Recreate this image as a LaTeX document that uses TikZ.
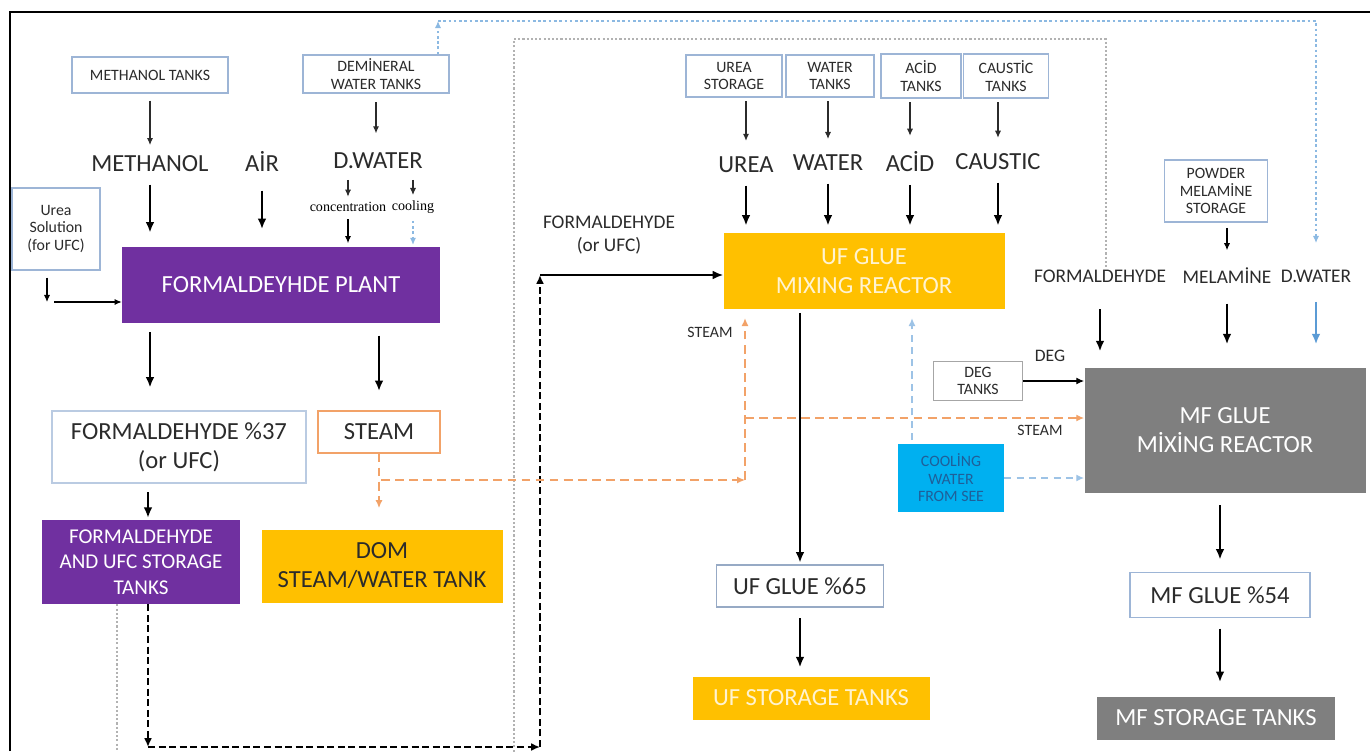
\documentclass[tikz,border=0pt]{standalone}
\usepackage{fontspec}
\setmainfont{Carlito}
\newfontfamily\notefont{Liberation Serif}
\usetikzlibrary{arrows.meta}
\definecolor{plantpurple}{HTML}{7030A0}
\definecolor{glueorange}{HTML}{FFC000}
\definecolor{mfgray}{HTML}{7F7F7F}
\definecolor{seablue}{HTML}{00B0F0}
\definecolor{tankline}{HTML}{9DB5D6}
\definecolor{steamline}{HTML}{F2A268}
\definecolor{dwblue}{HTML}{5B9BD5}
\definecolor{txtgray}{HTML}{2B2B2B}
\definecolor{gluetext}{HTML}{FFF3D0}
\definecolor{seatext}{HTML}{1F5F99}

\begin{document}
\begin{tikzpicture}[x=0.02cm, y=-0.02cm,
    box/.style 2 args={minimum width=#1*0.02cm, minimum height=#2*0.02cm},
    tank/.style={draw=tankline, line width=0.7pt, fill=white, align=center,
        text=txtgray, inner sep=0pt, font=\fontsize{9}{10}\selectfont},
    bigtext/.style={font=\fontsize{14}{16.5}\selectfont},
    plant/.style={fill=plantpurple, text=white, align=center, inner sep=0pt},
    glue/.style={fill=glueorange, text=gluetext, align=center, inner sep=0pt, bigtext},
    mf/.style={fill=mfgray, text=white, align=center, inner sep=0pt, bigtext},
    feedtext/.style={text=txtgray, inner sep=0pt, bigtext},
    midtext/.style={text=txtgray, inner sep=0pt, align=center, font=\fontsize{11}{13}\selectfont},
    smalltext/.style={text=txtgray, inner sep=0pt, font=\fontsize{9}{10}\selectfont},
    notetext/.style={text=black, inner sep=0pt, font=\notefont\fontsize{8}{9}\selectfont},
    feed/.style={-{Latex[length=4pt,width=3.5pt]}, line width=0.6pt, draw=txtgray},
    flow/.style={-{Latex[length=6pt,width=5pt]}, line width=1.3pt},
    steam/.style={-{Latex[length=4.5pt,width=4pt]}, draw=steamline, line width=0.8pt,
        dash pattern=on 5pt off 3pt},
    cool/.style={-{Latex[length=4.5pt,width=4pt]}, draw=dwblue!60, line width=0.8pt,
        dash pattern=on 4pt off 3pt},
    dwline/.style={-{Latex[length=4pt,width=3.5pt]}, draw=dwblue!70, line width=0.7pt,
        dash pattern=on 1.5pt off 1.5pt},
    grayline/.style={draw=gray!60, line width=0.8pt, dash pattern=on 1.2pt off 1.2pt},
    blackdash/.style={-{Latex[length=5pt,width=4.5pt]}, line width=1.3pt,
        dash pattern=on 4pt off 2pt}
]
    \useasboundingbox (0,0) rectangle (1370,751);
    \draw[line width=1.6pt] (10,751) -- (10,12) -- (1370,12);

    \node[tank, box={156}{36}] (methtank) at (150,75) {METHANOL TANKS};
    \node[tank, box={146}{38}] (demitank) at (376,74) {DEMİNERAL\\WATER TANKS};
    \node[tank, box={88}{82}] (ureasol) at (56,229) {Urea\\Solution\\(for UFC)};
    \node[feedtext] (methanol) at (150,164) {METHANOL};
    \node[feedtext] (air) at (262,161) {AİR};
    \node[feedtext] (dwater) at (378,161) {D.WATER};
    \node[notetext] (conc) at (348,207) {concentration};
    \node[notetext] (coolnote) at (413,207) {cooling};
    \node[plant, box={318}{76}, bigtext] (fplant) at (281,285) {FORMALDEYHDE PLANT};
    \node[tank, bigtext, box={254}{72}, draw=tankline!70] (form37) at (179,447) {FORMALDEHYDE \%37\\(or UFC)};
    \node[tank, bigtext, box={122}{42}, draw=steamline] (steambox) at (379,432) {STEAM};
    \node[plant, box={198}{84}, font=\fontsize{12}{14.5}\selectfont] (fstore) at (141,562) {FORMALDEHYDE\\AND UFC STORAGE\\TANKS};
    \node[fill=glueorange, text=txtgray, align=center, inner sep=0pt, bigtext, box={241}{73}] (dom) at (382,566) {DOM\\STEAM/WATER TANK};

    \node[tank, box={96}{42}] (ureast) at (734,76) {UREA\\STORAGE};
    \node[tank, box={88}{42}] (watert) at (830,76) {WATER\\TANKS};
    \node[tank, box={80}{44}] (acidt) at (921,76) {ACİD\\TANKS};
    \node[tank, box={85}{44}] (caustt) at (1006,76) {CAUSTİC\\TANKS};
    \node[feedtext] (urea) at (746,165) {UREA};
    \node[feedtext] (water) at (828,163) {WATER};
    \node[feedtext] (acid) at (910,162) {ACİD};
    \node[feedtext] (caustic) at (998,162) {CAUSTIC};
    \node[glue, box={281}{76}] (ufr) at (864,271) {UF GLUE\\MIXING REACTOR};
    \node[midtext] (formufc) at (609,235) {FORMALDEHYDE\\(or UFC)};
    \node[smalltext] (ufsteam) at (710,332) {STEAM};
    \node[tank, bigtext, box={167}{42}, draw=tankline!80!gray] (uf65) at (800,586) {UF GLUE \%65};
    \node[glue, box={237}{43}] (ufstore) at (811,698) {UF STORAGE TANKS};
    \node[fill=seablue, text=seatext, align=center, inner sep=0pt, font=\fontsize{9}{10}\selectfont, box={106}{68}] (cooling) at (951,478) {COOLİNG\\WATER\\FROM SEE};
    \node[tank, box={89}{39}, draw=gray!70] (degt) at (978,381) {DEG\\TANKS};
    \node[smalltext, font=\fontsize{10}{11}\selectfont] (deg) at (1050,356) {DEG};
    \node[smalltext] (mfsteam) at (1040,430) {STEAM};

    \node[tank, box={103}{62}] (powder) at (1216,191) {POWDER\\MELAMİNE\\STORAGE};
    \node[midtext] (mfform) at (1100,276) {FORMALDEHYDE};
    \node[midtext] (melamine) at (1227,276) {MELAMİNE};
    \node[midtext] (mfwater) at (1316,276) {D.WATER};
    \node[mf, box={281}{125}] (mfr) at (1225,430) {MF GLUE\\MİXİNG REACTOR};
    \node[tank, bigtext, box={180}{45}] (mf54) at (1220,595) {MF GLUE \%54};
    \node[mf, box={238}{43}] (mfstore) at (1216,718) {MF STORAGE TANKS};

    \coordinate (ureaturn) at (47,302);
    \coordinate (dwtop1) at (438,21);
    \coordinate (dwtop2) at (1316,21);
    \coordinate (fdot1) at (117,762);
    \coordinate (fdot2) at (514,762);
    \coordinate (fdot3) at (514,39);
    \coordinate (fdot4) at (1106,39);
    \coordinate (fdash1) at (148,747);
    \coordinate (fdash2) at (540,747);
    \coordinate (fdash3) at (540,275);
    \coordinate (stj) at (381,480);
    \coordinate (stk) at (745,480);
    \coordinate (stm) at (745,418);
    \coordinate (cwup) at (912,440);

    \draw[feed, shorten <=4pt, shorten >=6pt] (methtank) -- (methanol);
    \draw[feed, shorten <=5pt, shorten >=11pt] (demitank) -- (demitank |- dwater.north);
    \draw[flow, shorten <=7pt, shorten >=8pt] (methanol) -- (methanol |- fplant.north);
    \draw[flow, shorten <=11pt, shorten >=10pt] (air) -- (air |- fplant.north);
    \draw[feed, shorten <=6pt, shorten >=3pt] (dwater.south -| conc) -- (conc);
    \draw[feed, shorten <=6pt, shorten >=3pt] (dwater.south -| coolnote) -- (coolnote);
    \draw[feed, draw=black, shorten <=4pt, shorten >=2pt] (conc) -- (conc |- fplant.north);
    \draw[dwline, shorten <=4pt, shorten >=1pt] (coolnote) -- (coolnote |- fplant.north);
    \draw[feed, draw=black, shorten <=4pt] (ureasol.south -| ureaturn) -- (ureaturn);
    \draw[feed, draw=black, shorten <=4pt] (ureaturn) -- (ureaturn -| fplant.west);
    \draw[flow, shorten <=5pt, shorten >=13pt] (fplant.south -| methanol) -- (methanol |- form37.north);
    \draw[flow, shorten <=7pt, shorten >=11pt] (fplant.south -| steambox) -- (steambox);
    \draw[flow, shorten <=5pt, shorten >=1pt] (form37.south -| fdash1) -- (fstore.north -| fdash1);

    \draw[grayline] (fstore.south -| fdot1) -- (fdot1) -- (fdot2) -- (fdot3) -- (fdot4) -- (fdot4 |- mfform.north);
    \draw[blackdash] (fstore.south -| fdash1) -- (fdash1);
    \draw[blackdash] (fdash1) -- (fdash2);
    \draw[blackdash] (fdash2) -- (fdash3);
    \draw[flow, line width=0.9pt] (fdash3) -- (fdash3 -| ufr.west);

    \draw[steam, shorten >=12pt] (steambox) -- (steambox |- dom.north);
    \draw[steam] (stj) -- (stk);
    \draw[steam, shorten >=5pt] (stk) -- (stk |- ufr.south);
    \draw[steam] (stm) -- (stm -| mfr.west);
    \draw[cool, shorten >=5pt] (cwup) -- (cwup |- ufr.south);
    \draw[cool] (cooling.east) -- (cooling.east -| mfr.west);
    \draw[-{Latex[length=4.5pt,width=4pt]}, line width=0.7pt] (degt.east) -- (degt.east -| mfr.west);

    \draw[dwline] (demitank.north -| dwtop1) -- (dwtop1);
    \draw[dwline, shorten >=15pt] (dwtop1) -- (dwtop2) -- (mfwater);

    \draw[feed, shorten <=2pt, shorten >=9pt] (ureast.south -| urea) -- (urea);
    \draw[feed, shorten <=2pt, shorten >=9pt] (watert.south -| water) -- (water);
    \draw[feed, shorten <=2pt, shorten >=9pt] (acidt.south -| acid) -- (acid);
    \draw[feed, shorten <=2pt, shorten >=9pt] (caustt.south -| caustic) -- (caustic);
    \draw[flow, shorten <=7pt, shorten >=4pt] (urea) -- (urea |- ufr.north);
    \draw[flow, shorten <=7pt, shorten >=4pt] (water) -- (water |- ufr.north);
    \draw[flow, shorten <=7pt, shorten >=4pt] (acid) -- (acid |- ufr.north);
    \draw[flow, shorten <=7pt, shorten >=4pt] (caustic) -- (caustic |- ufr.north);
    \draw[flow, shorten <=2pt, shorten >=1pt] (ufr.south -| uf65) -- (uf65);
    \draw[flow, shorten <=6pt, shorten >=5pt] (uf65) -- (uf65 |- ufstore.north);

    \draw[feed, draw=black, shorten <=3pt, shorten >=10pt] (powder.south -| melamine) -- (melamine);
    \draw[flow, shorten <=15pt, shorten >=9pt] (mfform) -- (mfform |- mfr.north);
    \draw[flow, shorten <=11pt, shorten >=13pt] (melamine) -- (melamine |- mfr.north);
    \draw[flow, draw=dwblue, shorten <=11pt, shorten >=13pt] (mfwater) -- (mfwater |- mfr.north);
    \draw[flow, shorten <=7pt, shorten >=7pt] (mfr.south -| mf54) -- (mf54);
    \draw[flow, shorten <=6pt, shorten >=8pt] (mf54) -- (mf54 |- mfstore.north);
\end{tikzpicture}
\end{document}
